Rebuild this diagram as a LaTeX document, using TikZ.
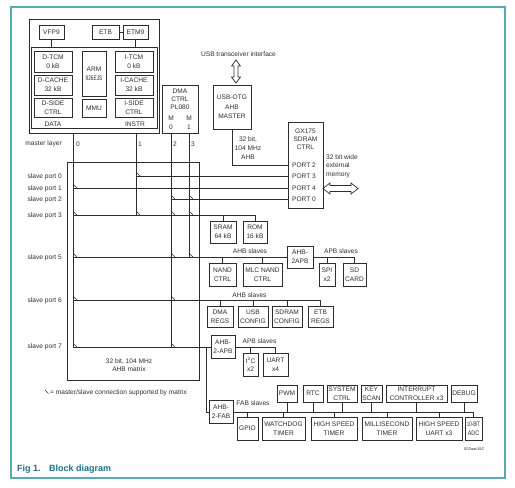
\documentclass[tikz,border=0pt]{standalone}
\usepackage{fontspec}
\setmainfont{Liberation Sans}
\usepackage{graphicx}
\definecolor{framec}{RGB}{90,170,180}
\definecolor{captc}{RGB}{30,110,140}
\definecolor{ink}{RGB}{45,45,45}
\begin{document}
\begin{tikzpicture}[x=1pt,y=-1pt,
  every node/.style={font=\fontsize{6.6}{8.6}\selectfont, text=ink, inner sep=0pt},
  box/.style={draw=ink, line width=0.8pt, fill=white, align=center},
  lbl/.style={align=center},
  wire/.style={draw=ink, line width=0.8pt},
  tick/.style={draw=ink, line width=0.6pt},
]
\useasboundingbox (0,0) rectangle (515,488);
% frame
\draw[framec, line width=1.2pt] (11,7) rectangle (505,478);

% CPU subsystem
\node[box, line width=0.9pt, minimum width=130, minimum height=114] (cpu) at (94,76) {};
\node[box, line width=0.9pt, minimum width=126, minimum height=81] (inner) at (94,87.5) {};
\node[box, minimum width=25, minimum height=14] (vfp) at (51.5,32) {VFP9};
\node[box, minimum width=27, minimum height=14] (etb) at (105.5,32) {ETB};
\node[box, minimum width=25, minimum height=14] (etm) at (135.5,32) {ETM9};
\node[box, minimum width=38, minimum height=21] (dtcm) at (53,61.5) {D-TCM\\0 kB};
\node[box, minimum width=38, minimum height=20] (dcache) at (53,85) {D-CACHE\\32 kB};
\node[box, minimum width=38, minimum height=19] (dside) at (53,107.5) {D-SIDE\\CTRL};
\node[box, minimum width=24, minimum height=45] (arm) at (94,73.5) {ARM\\\scalebox{0.72}[1]{926EJS}};
\node[box, minimum width=24, minimum height=18] (mmu) at (94,108) {MMU};
\node[box, minimum width=38, minimum height=21] (itcm) at (134,61.5) {I-TCM\\0 kB};
\node[box, minimum width=38, minimum height=20] (icache) at (134,85) {I-CACHE\\32 kB};
\node[box, minimum width=38, minimum height=19] (iside) at (134,107.5) {I-SIDE\\CTRL};
\node (data) at (53,124) {DATA};
\node (instr) at (135,124) {INSTR};
\draw[wire] (vfp) -- (vfp |- inner.north);
\draw[wire] (etm) -- (etm |- inner.north);
\draw[wire] (etb) -- (etm);

% DMA
\node[box, minimum width=36, minimum height=48] (dma) at (180,109) {};
\node[lbl, font=\fontsize{6.6}{8}\selectfont] (dmat) at (180,99) {DMA\\CTRL\\PL080};
\node (dmam0) at (171,118) {M};
\node (dmam1) at (189,118) {M};
\node (dma0) at (171,127) {0};
\node (dma1) at (189,127) {1};

% USB
\node[box, font=\fontsize{6.6}{9.3}\selectfont, minimum width=38, minimum height=44] (usb) at (232,107) {USB-OTG\\AHB\\MASTER};
\node (usbt) at (238.5,54) {USB transceiver interface};
\draw[wire, line width=0.7pt] (236,60) -- (240.5,66) -- (238,66) -- (238,77) -- (240.5,77) -- (236,83) -- (231.5,77) -- (234,77) -- (234,66) -- (231.5,66) -- cycle;
\node[lbl, font=\fontsize{6.6}{9}\selectfont] (usbbus) at (248,148) {32 bit,\\104 MHz\\AHB};

% SDRAM
\node[box, minimum width=35, minimum height=86] (sdram) at (305.5,165) {};
\node[lbl, font=\fontsize{6.6}{8}\selectfont] (sdt) at (305.5,139) {GX175\\SDRAM\\CTRL};
\node[anchor=west] (pt2) at (292,165) {PORT 2};
\node[anchor=west] (pt3) at (292,176) {PORT 3};
\node[anchor=west] (pt4) at (292,188) {PORT 4};
\node[anchor=west] (pt0) at (292,199) {PORT 0};
\node[anchor=west, align=left, font=\fontsize{6.6}{8.7}\selectfont] (extm) at (326,166) {32 bit wide\\external\\memory};
\draw[wire, line width=0.7pt] (323,188.5) -- (330,183) -- (330,185.5) -- (351,185.5) -- (351,183) -- (358,188.5) -- (351,194) -- (351,191.5) -- (330,191.5) -- (330,194) -- cycle;

% matrix
\node[box, minimum width=132, minimum height=218] (matrix) at (133,271) {};
\node[lbl, font=\fontsize{6.6}{8}\selectfont] (mxt) at (129,365) {32 bit, 104 MHz\\AHB matrix};
\node[anchor=east] (ml) at (62,144) {master layer};
\node (ml0) at (78,144) {0};
\node (ml1) at (140,144) {1};
\node (ml2) at (175,144) {2};
\node (ml3) at (193,144) {3};
\node[anchor=east] (sp0) at (62,177) {slave port 0};
\node[anchor=east] (sp1) at (62,189) {slave port 1};
\node[anchor=east] (sp2) at (62,199.5) {slave port 2};
\node[anchor=east] (sp3) at (62,216) {slave port 3};
\node[anchor=east] (sp5) at (62,258) {slave port 5};
\node[anchor=east] (sp6) at (62,301) {slave port 6};
\node[anchor=east] (sp7) at (62,347) {slave port 7};

\coordinate (m0) at (73,133);
\coordinate (m1) at (136,133);
\coordinate (m2) at (171,133);
\coordinate (m3) at (189,133);
\coordinate (s0) at (67,176);
\coordinate (s1) at (67,188);
\coordinate (s2) at (67,199);
\coordinate (s3) at (67,215);
\coordinate (s5) at (67,257);
\coordinate (s6) at (67,300);
\coordinate (s7) at (67,347);

% slaves on ports 3,5,6,7
\node[box, minimum width=26, minimum height=22] (sram) at (223,232) {SRAM\\64 kB};
\node[box, minimum width=24, minimum height=22] (rom) at (255,232) {ROM\\16 kB};
\node[box, minimum width=27, minimum height=23] (nand) at (222.5,274.5) {NAND\\CTRL};
\node[box, minimum width=39, minimum height=23] (mlc) at (262.5,274.5) {MLC NAND\\CTRL};
\node[box, minimum width=26, minimum height=22] (apba) at (300,257) {AHB-\\2APB};
\node[box, minimum width=16, minimum height=23] (spi) at (327,274.5) {SPI\\x2};
\node[box, minimum width=23, minimum height=23] (sd) at (354.5,274.5) {SD\\CARD};
\node (ahbs1) at (250,251) {AHB slaves};
\node (apbs1) at (341,251) {APB slaves};

\node[box, minimum width=26, minimum height=21] (dmar) at (220,316.5) {DMA\\REGS};
\node[box, minimum width=30, minimum height=21] (usbc) at (253,316.5) {USB\\CONFIG};
\node[box, minimum width=30, minimum height=21] (sdrc) at (287,316.5) {SDRAM\\CONFIG};
\node[box, minimum width=25, minimum height=21] (etbr) at (320.5,316.5) {ETB\\REGS};
\node (ahbs2) at (249.5,295.5) {AHB slaves};

\node[box, minimum width=24, minimum height=23] (apbb) at (223,347) {AHB-\\2-APB};
\node[box, minimum width=15, minimum height=23] (i2c) at (250.5,364.5) {I\textsuperscript{2}C\\x2};
\node[box, minimum width=25, minimum height=23] (uart) at (275.5,364.5) {UART\\x4};
\node (apbs2) at (259.5,341) {APB slaves};

\node[box, minimum width=24, minimum height=23] (fab) at (221,412) {AHB-\\2-FAB};
\node (fabs) at (253,403) {FAB slaves};
\node[box, minimum width=20, minimum height=17] (pwm) at (287,393.5) {PWM};
\node[box, minimum width=20, minimum height=17] (rtc) at (313,393.5) {RTC};
\node[box, minimum width=30, minimum height=17] (sysc) at (342,393.5) {SYSTEM\\CTRL};
\node[box, minimum width=21, minimum height=17] (keys) at (371.5,393.5) {KEY\\SCAN};
\node[box, minimum width=61, minimum height=17] (intc) at (416.5,393.5) {INTERRUPT\\CONTROLLER x3};
\node[box, minimum width=26, minimum height=17] (dbg) at (464,393.5) {DEBUG};
\node[box, minimum width=21, minimum height=23] (gpio) at (247.5,428.5) {GPIO};
\node[box, minimum width=43, minimum height=23] (wdt) at (283.5,428.5) {WATCHDOG\\TIMER};
\node[box, minimum width=46, minimum height=23] (hst) at (334,428.5) {HIGH SPEED\\TIMER};
\node[box, minimum width=50, minimum height=23] (mst) at (387,428.5) {MILLISECOND\\TIMER};
\node[box, minimum width=46, minimum height=23] (hsu) at (439,428.5) {HIGH SPEED\\UART x3};
\node[box, minimum width=17, minimum height=23] (adc) at (473.5,428.5) {\scalebox{0.68}[1]{10-BIT}\\\scalebox{0.82}[1]{ADC}};
\coordinate (fabend) at (473.5,412);

% master lines
\draw[wire] (m0) -- (m0 |- s7);
\draw[wire] (m1) -- (m1 |- s3);
\draw[wire] (m2) -- (m2 |- s7);
\draw[wire] (m3) -- (m3 |- s5);
% slave lines
\draw[wire] (usb) |- (sdram.west |- pt2);
\draw[wire] (m1 |- s0) -- (sdram.west |- s0);
\draw[wire] (m0 |- s1) -- (sdram.west |- s1);
\draw[wire] (m2 |- s2) -- (sdram.west |- s2);
\draw[wire] (m0 |- s3) -| (rom);
\draw[wire] (sram) -- (sram |- s3);
\draw[wire] (m0 |- s5) -- (apba);
\draw[wire] (nand) -- (nand |- s5);
\draw[wire] (mlc) -- (mlc |- s5);
\draw[wire] (apba) -| (sd);
\draw[wire] (spi) -- (spi |- apba);
\draw[wire] (m0 |- s6) -| (etbr);
\draw[wire] (dmar) -- (dmar |- s6);
\draw[wire] (usbc) -- (usbc |- s6);
\draw[wire] (sdrc) -- (sdrc |- s6);
\draw[wire] (m0 |- s7) -- (apbb);
\draw[wire] (apbb) -| (uart);
\draw[wire] (i2c) -- (i2c |- apbb);
\coordinate (j7) at (206,347);
\draw[wire] (j7) |- (fab);
\draw[wire] (fab) -- (fabend);
\foreach \n in {pwm,rtc,sysc,keys,intc,dbg,gpio,wdt,hst,mst,hsu,adc}
  \draw[wire] (\n) -- (\n |- fabend);

% connection ticks
\foreach \m/\s in {m1/s0,m0/s1,m2/s2,m3/s2,m0/s3,m1/s3,m2/s3,m3/s3,m0/s5,m2/s5,m3/s5,m0/s6,m2/s6,m0/s7,m2/s7}
  \draw[tick] ([yshift=4pt]\m |- \s) -- ([xshift=4pt]\m |- \s);

% legend
\node[anchor=west] (legend) at (50,393) {= master/slave connection supported by matrix};
\draw[tick] ([xshift=-5pt,yshift=3pt]legend.west) -- ([xshift=-1.5pt,yshift=-0.5pt]legend.west);

% caption
\node[anchor=west, font=\fontsize{9}{10}\selectfont\bfseries, text=captc] (fig) at (17,469) {Fig 1.};
\node[anchor=west, font=\fontsize{9}{10}\selectfont\bfseries, text=captc] (figt) at (49,469) {Block diagram};
\node[font=\fontsize{4}{5}\selectfont] (id) at (474,449) {002aac182};
\end{tikzpicture}
\end{document}
